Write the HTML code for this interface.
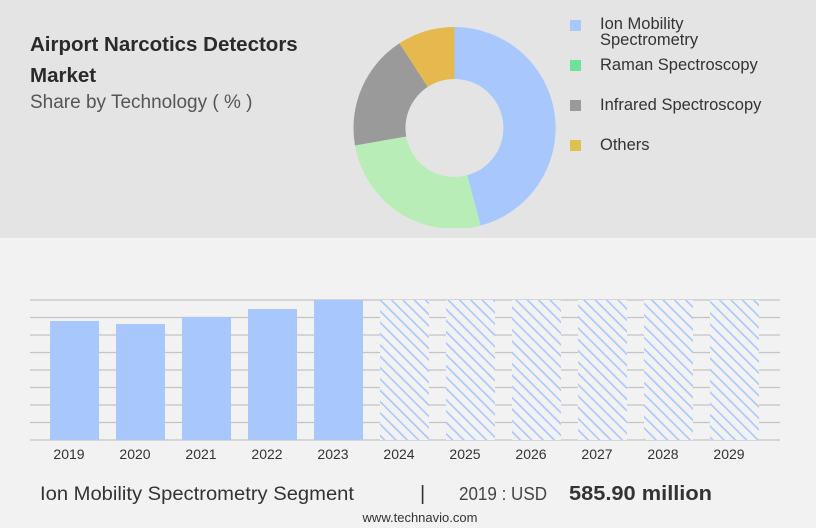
<!DOCTYPE html>
<html><head><meta charset="utf-8"><style>
body{margin:0;width:816px;height:528px;overflow:hidden;background:#f2f2f3;font-family:"Liberation Sans",sans-serif;position:relative}
.top{position:absolute;left:0;top:0;width:816px;height:238px;background:#e4e4e4}
.t{position:absolute;color:#333}
</style></head><body>
<div class="top"></div>
<div class="t" style="left:30px;top:29px;font-size:20.5px;font-weight:bold;line-height:31px;color:#2a2a2a">Airport Narcotics Detectors<br>Market</div>
<div class="t" style="left:30px;top:92px;font-size:19px;color:#555">Share by Technology ( % )</div>
<svg style="position:absolute;left:0;top:0" width="816" height="228">
<path d="M454.5,27 A101,101 0 0 1 480.6,225.6 L467.2,175.3 A49,49 0 0 0 454.5,79 Z" fill="#a8c8fd"/>
<path d="M480.6,225.6 A101,101 0 0 1 355,145.5 L406.2,136.5 A49,49 0 0 0 467.2,175.3 Z" fill="#b9edb8"/>
<path d="M355,145.5 A101,101 0 0 1 399.5,43.3 L427.8,86.9 A49,49 0 0 0 406.2,136.5 Z" fill="#9a9a9a"/>
<path d="M399.5,43.3 A101,101 0 0 1 454.5,27 L454.5,79 A49,49 0 0 0 427.8,86.9 Z" fill="#e6b94e"/>
<rect x="570" y="20" width="11" height="11" fill="#a8c8fd"/>
<rect x="570" y="60" width="11" height="11" fill="#6ee29a"/>
<rect x="570" y="100" width="11" height="11" fill="#9a9a9a"/>
<rect x="570" y="140" width="11" height="11" fill="#dfc152"/>
<g font-family="Liberation Sans,sans-serif" font-size="16.5" fill="#333">
<text x="600" y="29">Ion Mobility</text><text x="600" y="45">Spectrometry</text>
<text x="600" y="70">Raman Spectroscopy</text>
<text x="600" y="110">Infrared Spectroscopy</text>
<text x="600" y="150">Others</text></g>
</svg>
<svg style="position:absolute;left:0;top:0" width="816" height="528">
<defs><pattern id="h" width="8" height="8" patternUnits="userSpaceOnUse" patternTransform="rotate(-45)"><rect width="8" height="8" fill="#f2f2f3"/><rect x="0" y="0" width="1.6" height="8" fill="#a8c8fd"/></pattern></defs>
<g stroke="#c4c4c4" stroke-width="1.3">
<line x1="30" x2="780" y1="300" y2="300"/><line x1="30" x2="780" y1="317.5" y2="317.5"/><line x1="30" x2="780" y1="335" y2="335"/><line x1="30" x2="780" y1="352.5" y2="352.5"/><line x1="30" x2="780" y1="370" y2="370"/><line x1="30" x2="780" y1="387.5" y2="387.5"/><line x1="30" x2="780" y1="405" y2="405"/><line x1="30" x2="780" y1="422.5" y2="422.5"/><line x1="30" x2="780" y1="440" y2="440"/></g>
<g fill="#a8c8fd"><rect x="50" y="321" width="49" height="119"/><rect x="116" y="324" width="49" height="116"/><rect x="182" y="317" width="49" height="123"/><rect x="248" y="309" width="49" height="131"/><rect x="314" y="300" width="49" height="140"/></g>
<g fill="url(#h)"><rect x="380" y="300" width="49" height="140"/><rect x="446" y="300" width="49" height="140"/><rect x="512" y="300" width="49" height="140"/><rect x="578" y="300" width="49" height="140"/><rect x="644" y="300" width="49" height="140"/><rect x="710" y="300" width="49" height="140"/></g>
<g font-family="Liberation Sans,sans-serif" font-size="14" fill="#333" text-anchor="middle">
<text x="69" y="459">2019</text><text x="135" y="459">2020</text><text x="201" y="459">2021</text><text x="267" y="459">2022</text><text x="333" y="459">2023</text><text x="399" y="459">2024</text><text x="465" y="459">2025</text><text x="531" y="459">2026</text><text x="597" y="459">2027</text><text x="663" y="459">2028</text><text x="729" y="459">2029</text></g>
<g font-family="Liberation Sans,sans-serif" fill="#333">
<text x="40" y="500" font-size="19" textLength="314" lengthAdjust="spacingAndGlyphs">Ion Mobility Spectrometry Segment</text>
<text x="420" y="500" font-size="20">|</text>
<text x="459" y="500" font-size="18.5" fill="#444" textLength="88" lengthAdjust="spacingAndGlyphs">2019 : USD</text>
<text x="569" y="500" font-size="20" font-weight="bold" textLength="143" lengthAdjust="spacingAndGlyphs">585.90 million</text>
<text x="420" y="522" font-size="13" text-anchor="middle">www.technavio.com</text></g>
</svg>
</body></html>
